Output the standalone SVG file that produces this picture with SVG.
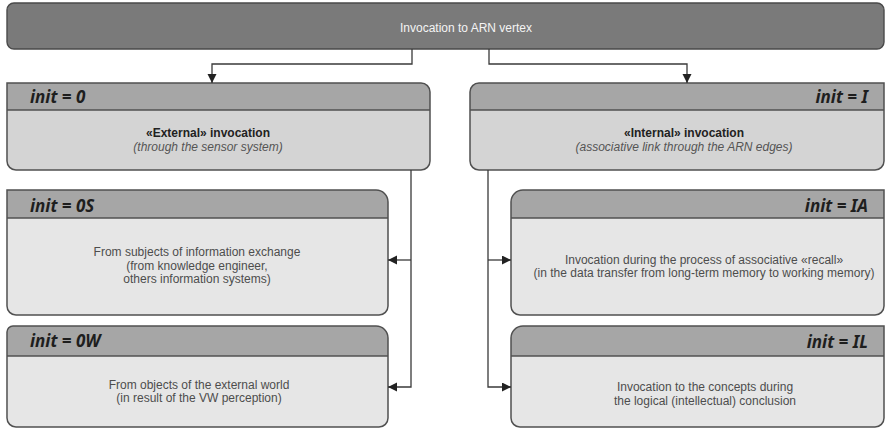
<svg xmlns="http://www.w3.org/2000/svg" width="889" height="429" viewBox="0 0 889 429">
  <defs>
    <marker id="arrow" markerUnits="userSpaceOnUse" markerWidth="10" markerHeight="10" refX="9" refY="4.5" orient="auto">
      <path d="M0,0 L9,4.5 L0,9 Z" fill="#222"/>
    </marker>
    <style>
      .bar { fill: #7a7a7a; stroke: #4a4a4a; stroke-width: 1.4; }
      .body1 { fill: #d4d4d4; }
      .body2 { fill: #e6e6e6; }
      .head { fill: #a6a6a6; }
      .outline { fill: none; stroke: #505050; stroke-width: 1.5; }
      .sep { stroke: #505050; stroke-width: 1.5; }
      .conn { fill: none; stroke: #3a3a3a; stroke-width: 1.3; marker-end: url(#arrow); }
      .tag { font-family: "Noto Sans", "DejaVu Sans", sans-serif; font-weight: bold; font-style: italic; font-size: 17px; fill: #1e1e1e; }
      .title { font-family: "Liberation Sans", Arial, sans-serif; font-size: 12px; fill: #f4f4f4; text-anchor: middle; }
      .txt { font-family: "Liberation Sans", Arial, sans-serif; font-size: 12px; fill: #4d4d4d; text-anchor: middle; }
      .bold { font-weight: bold; fill: #222; }
      .it { font-style: italic; fill: #555; }
    </style>
  </defs>

  <!-- root vertex -->
  <g id="root">
    <rect class="bar" x="7" y="3" width="877" height="46" rx="7"/>
    <text class="title" x="466" y="32">Invocation to ARN vertex</text>
  </g>

  <!-- external invocation -->
  <g id="init-0">
    <path class="body1" d="M7,83 H421 A9,9 0 0 1 430,92 V161 A9,9 0 0 1 421,170 H16 A9,9 0 0 1 7,161 Z"/>
    <path class="head" d="M7,83 H421 A9,9 0 0 1 430,92 V110 H7 Z"/>
    <line class="sep" x1="7" y1="110" x2="430" y2="110"/>
    <path class="outline" d="M7,83 H421 A9,9 0 0 1 430,92 V161 A9,9 0 0 1 421,170 H16 A9,9 0 0 1 7,161 Z"/>
    <text class="tag" x="30" y="103">init = 0</text>
    <text class="txt bold" x="208" y="137">«External» invocation</text>
    <text class="txt it" x="208" y="151">(through the sensor system)</text>
  </g>

  <!-- internal invocation -->
  <g id="init-I">
    <path class="body1" d="M479,83 H884 V161 A9,9 0 0 1 875,170 H479 A9,9 0 0 1 470,161 V92 A9,9 0 0 1 479,83 Z"/>
    <path class="head" d="M479,83 H884 V110 H470 V92 A9,9 0 0 1 479,83 Z"/>
    <line class="sep" x1="470" y1="110" x2="884" y2="110"/>
    <path class="outline" d="M479,83 H884 V161 A9,9 0 0 1 875,170 H479 A9,9 0 0 1 470,161 V92 A9,9 0 0 1 479,83 Z"/>
    <text class="tag" x="868" y="103" text-anchor="end">init = I</text>
    <text class="txt bold" x="684" y="137">«Internal» invocation</text>
    <text class="txt it" x="684" y="151">(associative link through the ARN edges)</text>
  </g>

  <!-- external: information exchange subjects -->
  <g id="init-0S">
    <path class="body2" d="M7,190 H376 A12,12 0 0 1 388,202 V306 A9,9 0 0 1 379,315 H16 A9,9 0 0 1 7,306 Z"/>
    <path class="head" d="M7,190 H376 A12,12 0 0 1 388,202 V218 H7 Z"/>
    <line class="sep" x1="7" y1="218" x2="388" y2="218"/>
    <path class="outline" d="M7,190 H376 A12,12 0 0 1 388,202 V306 A9,9 0 0 1 379,315 H16 A9,9 0 0 1 7,306 Z"/>
    <text class="tag" x="30" y="212">init = 0S</text>
    <text class="txt" x="197" y="256">From subjects of information exchange</text>
    <text class="txt" x="197" y="269.5">(from knowledge engineer,</text>
    <text class="txt" x="197" y="283">others information systems)</text>
  </g>

  <!-- external: objects of the world -->
  <g id="init-0W">
    <path class="body2" d="M13,326 H376 A12,12 0 0 1 388,338 V418 A9,9 0 0 1 379,427 H16 A9,9 0 0 1 7,418 V332 A6,6 0 0 1 13,326 Z"/>
    <path class="head" d="M13,326 H376 A12,12 0 0 1 388,338 V356 H7 V332 A6,6 0 0 1 13,326 Z"/>
    <line class="sep" x1="7" y1="356" x2="388" y2="356"/>
    <path class="outline" d="M13,326 H376 A12,12 0 0 1 388,338 V418 A9,9 0 0 1 379,427 H16 A9,9 0 0 1 7,418 V332 A6,6 0 0 1 13,326 Z"/>
    <text class="tag" x="30" y="347">init = 0W</text>
    <text class="txt" x="199" y="388.5">From objects of the external world</text>
    <text class="txt" x="199" y="402">(in result of the VW perception)</text>
  </g>

  <!-- internal: associative recall -->
  <g id="init-IA">
    <path class="body2" d="M523,190 H884 V306 A9,9 0 0 1 875,315 H520 A9,9 0 0 1 511,306 V202 A12,12 0 0 1 523,190 Z"/>
    <path class="head" d="M523,190 H884 V218 H511 V202 A12,12 0 0 1 523,190 Z"/>
    <line class="sep" x1="511" y1="218" x2="884" y2="218"/>
    <path class="outline" d="M523,190 H884 V306 A9,9 0 0 1 875,315 H520 A9,9 0 0 1 511,306 V202 A12,12 0 0 1 523,190 Z"/>
    <text class="tag" x="868" y="212" text-anchor="end">init = IA</text>
    <text class="txt" x="704" y="263.5">Invocation during the process of associative «recall»</text>
    <text class="txt" x="704" y="277">(in the data transfer from long-term memory to working memory)</text>
  </g>

  <!-- internal: logical conclusion -->
  <g id="init-IL">
    <path class="body2" d="M523,326 H884 V418 A9,9 0 0 1 875,427 H520 A9,9 0 0 1 511,418 V338 A12,12 0 0 1 523,326 Z"/>
    <path class="head" d="M523,326 H884 V356 H511 V338 A12,12 0 0 1 523,326 Z"/>
    <line class="sep" x1="511" y1="356" x2="884" y2="356"/>
    <path class="outline" d="M523,326 H884 V418 A9,9 0 0 1 875,427 H520 A9,9 0 0 1 511,418 V338 A12,12 0 0 1 523,326 Z"/>
    <text class="tag" x="868" y="348" text-anchor="end">init = IL</text>
    <text class="txt" x="705" y="391">Invocation to the concepts during</text>
    <text class="txt" x="705" y="404.5">the logical (intellectual) conclusion</text>
  </g>

  <!-- connectors -->
  <g id="connectors">
    <path class="conn" d="M412,49 V64 H212 V83"/>
    <path class="conn" d="M489,49 V64 H687 V83"/>
    <path class="conn" d="M411,170 V387 H388"/>
    <path class="conn" d="M411,260 H388"/>
    <path class="conn" d="M488,170 V387 H511"/>
    <path class="conn" d="M488,260 H511"/>
  </g>
</svg>
